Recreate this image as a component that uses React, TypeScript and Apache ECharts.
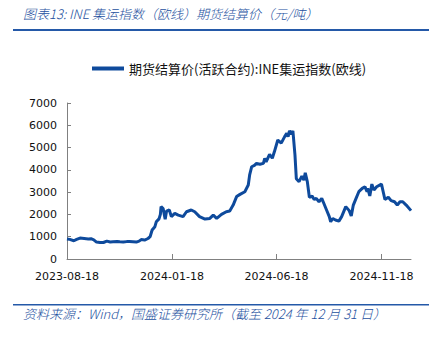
import React, { useEffect, useRef } from "react";
import * as echarts from "echarts";

const titleText = "图表13: INE 集运指数（欧线）期货结算价（元/吨）";
const footerText = "资料来源：Wind，国盛证券研究所（截至 2024 年 12 月 31 日）";
const seriesName = "期货结算价(活跃合约):INE集运指数(欧线)";

const dates = [
  "2023-08-18", "2023-08-22", "2023-08-28", "2023-09-01", "2023-09-06", "2023-09-12",
  "2023-09-18", "2023-09-22", "2023-09-26", "2023-09-30", "2023-10-05", "2023-10-10",
  "2023-10-15", "2023-10-20", "2023-10-24", "2023-10-30", "2023-11-03", "2023-11-08",
  "2023-11-13", "2023-11-17", "2023-11-22", "2023-11-27", "2023-12-01", "2023-12-04",
  "2023-12-09", "2023-12-14", "2023-12-17", "2023-12-20", "2023-12-24", "2023-12-26",
  "2023-12-30", "2024-01-01", "2024-01-02", "2024-01-05", "2024-01-08", "2024-01-10",
  "2024-01-14", "2024-01-17", "2024-01-22", "2024-01-27", "2024-02-03", "2024-02-08",
  "2024-02-15", "2024-02-20", "2024-02-27", "2024-03-06", "2024-03-13", "2024-03-18",
  "2024-03-23", "2024-03-30", "2024-04-06", "2024-04-11", "2024-04-16", "2024-04-21",
  "2024-04-26", "2024-05-03", "2024-05-08", "2024-05-10", "2024-05-13", "2024-05-17",
  "2024-05-20", "2024-05-25", "2024-05-30", "2024-06-01", "2024-06-03", "2024-06-08",
  "2024-06-12", "2024-06-15", "2024-06-20", "2024-06-25", "2024-06-30", "2024-07-03",
  "2024-07-05", "2024-07-07", "2024-07-10", "2024-07-12", "2024-07-15", "2024-07-17",
  "2024-07-21", "2024-07-25", "2024-07-28", "2024-07-30", "2024-08-02", "2024-08-05",
  "2024-08-09", "2024-08-12", "2024-08-15", "2024-08-19", "2024-08-23", "2024-08-26",
  "2024-08-30", "2024-09-03", "2024-09-05", "2024-09-08", "2024-09-12", "2024-09-17",
  "2024-09-21", "2024-09-27", "2024-10-02", "2024-10-05", "2024-10-08", "2024-10-12",
  "2024-10-16", "2024-10-21", "2024-10-25", "2024-10-28", "2024-10-29", "2024-11-01",
  "2024-11-04", "2024-11-07", "2024-11-11", "2024-11-18", "2024-11-21", "2024-11-23",
  "2024-11-28", "2024-12-02", "2024-12-07", "2024-12-11", "2024-12-15", "2024-12-19",
  "2024-12-24", "2024-12-31",
];

const prices = [
  900, 880, 820, 880, 940, 920,
  900, 910, 860, 760, 740, 740,
  800, 760, 770, 780, 770, 760,
  780, 780, 770, 760, 800, 870,
  850, 920, 1000, 1300, 1450, 1670,
  1800, 2000, 2350, 2260, 1780, 2150,
  2200, 1900, 2050, 1970, 1900, 2120,
  2200, 2120, 1900, 1790, 1820, 1970,
  1820, 2000, 2120, 2150, 2420, 2800,
  2900, 3020, 3320, 3770, 4140, 4200,
  4290, 4250, 4290, 4520, 4360, 4700,
  4520, 4810, 5340, 5200, 5490, 5640,
  5490, 5750, 5600, 5750, 4670, 3600,
  3470, 3720, 3540, 3870, 3470, 2770,
  2820, 2670, 2720, 2570, 2720, 2500,
  2200, 1900, 1670, 1820, 1750, 1700,
  1900, 2350, 2170, 1930, 2420, 2720,
  3020, 3170, 3240, 3020, 3170, 2830,
  3360, 3090, 3240, 3360, 2950, 2670,
  2770, 2620, 2570, 2420, 2570, 2570,
  2420, 2170,
];

const xTickDates = ["2023-08-18", "2024-01-18", "2024-06-18", "2024-11-18"];
const xMin = "2023-08-18";
const xMax = "2024-12-31";

const BLUE = "#0E4A9C";
const TITLE_BLUE = "#24509E";

const ts = (s: string) => {
  const [y, m, d] = s.split("-").map(Number);
  return Date.UTC(y, m - 1, d);
};
const pad = (n: number) => (n < 10 ? "0" + n : "" + n);
const fmt = (v: number) => {
  const d = new Date(v);
  return d.getUTCFullYear() + "-" + pad(d.getUTCMonth() + 1) + "-" + pad(d.getUTCDate());
};

export default function App() {
  const ref = useRef<HTMLDivElement>(null);
  useEffect(() => {
    if (!ref.current) return;
    const chart = echarts.init(ref.current, null, { renderer: "svg" });
    const tickValues = xTickDates.map(ts);
    chart.setOption({
      animation: false,
      backgroundColor: "#ffffff",
      textStyle: { fontFamily: "DejaVu Sans" },
      grid: { left: 67, right: 27, top: 103, bottom: 82, containLabel: false },
      legend: {
        left: 92,
        top: 62,
        padding: 0,
        icon: "rect",
        itemWidth: 32,
        itemHeight: 4,
        itemGap: 4,
        textStyle: { fontSize: 13, color: "#111", fontFamily: "Noto Sans CJK SC" },
        data: [seriesName],
      },
      xAxis: {
        type: "value",
        min: ts(xMin),
        max: ts(xMax),
        splitLine: { show: false },
        axisLine: { show: true, lineStyle: { color: "#808080", width: 1 } },
        axisTick: {
          show: true,
          inside: true,
          length: 5,
          customValues: tickValues,
          lineStyle: { color: "#808080" },
        },
        axisLabel: {
          customValues: tickValues,
          formatter: (v: number) => fmt(v),
          fontSize: 11,
          color: "#111",
          margin: 12,
          fontFamily: "DejaVu Sans",
          showMinLabel: true,
          showMaxLabel: true,
        },
      },
      yAxis: {
        type: "value",
        min: 0,
        max: 7000,
        interval: 1000,
        splitLine: { show: false },
        axisLine: { show: true, lineStyle: { color: "#808080", width: 1 } },
        axisTick: { show: true, inside: true, length: 4, lineStyle: { color: "#808080" } },
        axisLabel: {
          fontSize: 11,
          color: "#111",
          margin: 10,
          fontFamily: "DejaVu Sans",
          formatter: (v: number) => String(v),
        },
      },
      series: [
        {
          name: seriesName,
          type: "line",
          data: dates.map((d, i) => [ts(d), prices[i]]),
          showSymbol: false,
          symbol: "none",
          lineStyle: { width: 3, color: BLUE },
          itemStyle: { color: BLUE },
        },
      ],
      graphic: [
        {
          type: "text",
          left: 23,
          top: 7,
          style: {
            text: titleText,
            fill: TITLE_BLUE,
            font: "italic 300 13px 'Noto Sans CJK SC'",
          },
        },
        {
          type: "rect",
          shape: { x: 13, y: 29, width: 416, height: 2 },
          style: { fill: "#2459A8" },
        },
        {
          type: "rect",
          shape: { x: 13, y: 304, width: 416, height: 1.5 },
          style: { fill: "#2459A8" },
        },
        {
          type: "text",
          left: 23,
          top: 307,
          style: {
            text: footerText,
            fill: TITLE_BLUE,
            font: "italic 300 13px 'Noto Sans CJK SC'",
          },
        },
      ],
    });
    return () => chart.dispose();
  }, []);
  return (
    <div
      ref={ref}
      style={{ position: "fixed", left: 0, top: 0, width: 438, height: 341 }}
    />
  );
}
